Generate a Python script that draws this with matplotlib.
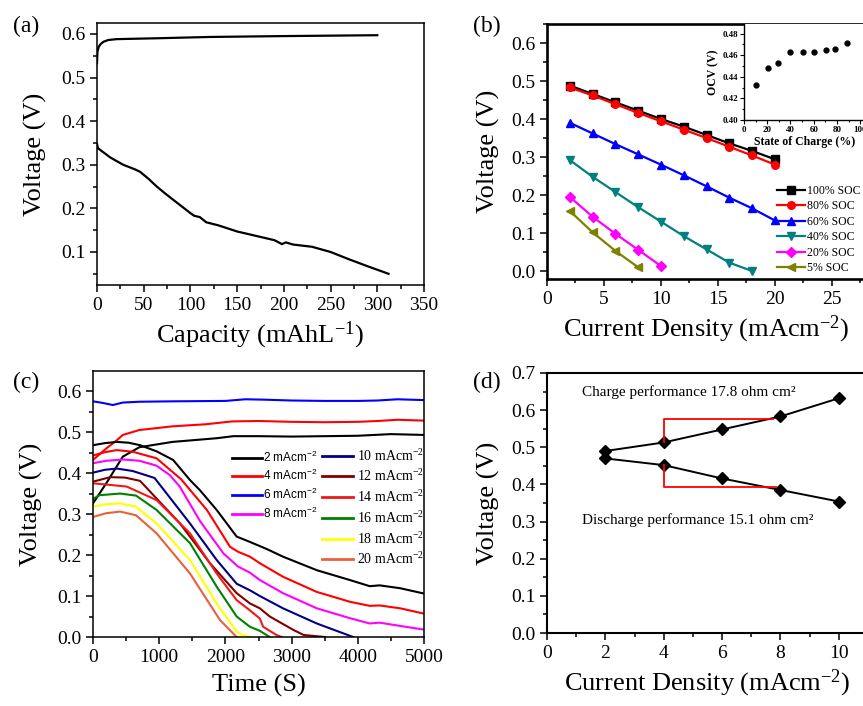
import matplotlib.pyplot as plt
from matplotlib.ticker import MultipleLocator
from matplotlib.lines import Line2D

plt.rcParams['font.family'] = ['Liberation Serif', 'DejaVu Serif']
plt.rcParams['mathtext.default'] = 'regular'

# ---------------- (a) charge / discharge vs capacity ----------------
a_chg_x = [0, 0.5, 2, 4, 7, 12, 21, 64, 121, 200, 300]
a_chg_y = [0.533, 0.56, 0.571, 0.577, 0.582, 0.586, 0.588, 0.590, 0.593, 0.595, 0.597]
a_dis_x = [0, 1, 14, 28, 40, 46, 55, 64, 73, 82, 91, 100, 104, 110, 117, 130, 150,
           170, 190, 198, 202, 210, 230, 250, 270, 290, 312]
a_dis_y = [0.348, 0.338, 0.317, 0.300, 0.290, 0.284, 0.268, 0.250, 0.234, 0.219, 0.204,
           0.189, 0.183, 0.180, 0.168, 0.161, 0.147, 0.137, 0.127, 0.118, 0.122, 0.117,
           0.112, 0.100, 0.083, 0.067, 0.050]

# ---------------- (b) polarisation at different SOC ----------------
soc_labels = ['100% SOC', '80% SOC', '60% SOC', '40% SOC', '20% SOC', '5% SOC']
soc_x = [
    [2, 4, 6, 8, 10, 12, 14, 16, 18, 20],
    [2, 4, 6, 8, 10, 12, 14, 16, 18, 20],
    [2, 4, 6, 8, 10, 12, 14, 16, 18, 20],
    [2, 4, 6, 8, 10, 12, 14, 16, 18],
    [2, 4, 6, 8, 10],
    [2, 4, 6, 8],
]
soc_y = [
    [0.488, 0.466, 0.444, 0.422, 0.400, 0.380, 0.358, 0.336, 0.316, 0.294],
    [0.483, 0.462, 0.439, 0.416, 0.394, 0.372, 0.350, 0.327, 0.304, 0.280],
    [0.390, 0.362, 0.334, 0.307, 0.280, 0.252, 0.223, 0.193, 0.165, 0.133],
    [0.292, 0.248, 0.208, 0.168, 0.130, 0.092, 0.057, 0.022, 0.000],
    [0.195, 0.143, 0.098, 0.056, 0.013],
    [0.158, 0.102, 0.053, 0.010],
]
soc_colors = ['#000000', '#FF0000', '#0000FF', '#008080', '#FF00FF', '#808000']
soc_markers = ['s', 'o', '^', 'v', 'D', '<']

ocv_soc = [10, 21, 29, 40, 51, 60, 71, 78, 89]
ocv_v = [0.432, 0.448, 0.453, 0.463, 0.463, 0.463, 0.465, 0.466, 0.471]

# ---------------- (c) voltage vs time ----------------
c_labels = ['2 mAcm$^{-2}$', '4 mAcm$^{-2}$', '6 mAcm$^{-2}$', '8 mAcm$^{-2}$',
            '10 mAcm$^{-2}$', '12 mAcm$^{-2}$', '14 mAcm$^{-2}$', '16 mAcm$^{-2}$',
            '18 mAcm$^{-2}$', '20 mAcm$^{-2}$']
c_colors = ['#000000', '#FF0000', '#0000FF', '#FF00FF', '#000080', '#800000',
            '#F01818', '#008000', '#FFFF00', '#E8603C']

# charge curves (2, 4, 6 mA)
chg2_t = [0, 200, 450, 700, 1200, 1870, 2120, 2500, 3000, 3500, 4000, 4500, 5000]
chg2_v = [0.326, 0.375, 0.440, 0.463, 0.476, 0.485, 0.490, 0.490, 0.489, 0.490, 0.491, 0.495, 0.493]
chg4_t = [0, 200, 360, 450, 700, 1200, 1700, 2100, 2500, 3000, 3500, 4000, 4300, 4600, 5000]
chg4_v = [0.432, 0.460, 0.480, 0.493, 0.505, 0.514, 0.519, 0.526, 0.527, 0.525, 0.524,
          0.525, 0.527, 0.530, 0.528]
chg6_t = [0, 150, 300, 450, 700, 1200, 2000, 2300, 2600, 3000, 3500, 4000, 4300, 4600, 5000]
chg6_v = [0.575, 0.571, 0.566, 0.572, 0.574, 0.575, 0.576, 0.580, 0.579, 0.577, 0.576,
          0.576, 0.577, 0.580, 0.578]

# discharge curves
dis_t = [
    [0, 180, 360, 540, 710, 960, 1210, 1465, 1616, 1868, 2170, 2370, 2620, 2870, 3380,
     3880, 4180, 4330, 4640, 5000],
    [0, 180, 360, 600, 960, 1330, 1720, 2070, 2190, 2370, 2520, 2870, 3380, 3880, 4180,
     4330, 4640, 5000],
    None,
    [0, 200, 460, 700, 960, 1160, 1310, 1620, 1970, 2190, 2370, 2520, 2870, 3380, 3880,
     4180, 4330, 4640, 5000],
    [0, 180, 360, 600, 930, 1465, 1868, 2170, 2370, 2520, 2870, 3380, 3930],
    [0, 260, 480, 710, 1314, 1767, 2170, 2370, 2520, 2670, 3030, 3180, 3500],
    [0, 260, 510, 960, 1465, 1868, 2170, 2370, 2520, 2570, 2770, 2850],
    [0, 100, 410, 650, 960, 1465, 1868, 2170, 2370, 2520, 2670],
    [0, 200, 410, 650, 960, 1465, 1868, 2170, 2250, 2400],
    [0, 200, 410, 650, 960, 1465, 1920, 2170],
]
dis_v = [
    [0.468, 0.473, 0.476, 0.474, 0.468, 0.453, 0.432, 0.383, 0.358, 0.310, 0.245, 0.232,
     0.215, 0.196, 0.163, 0.139, 0.124, 0.126, 0.119, 0.106],
    [0.443, 0.451, 0.456, 0.452, 0.436, 0.385, 0.310, 0.220, 0.208, 0.196, 0.180, 0.147,
     0.110, 0.086, 0.076, 0.077, 0.070, 0.057],
    None,
    [0.424, 0.430, 0.433, 0.430, 0.418, 0.395, 0.367, 0.282, 0.204, 0.172, 0.157, 0.139,
     0.107, 0.070, 0.046, 0.033, 0.035, 0.027, 0.018],
    [0.401, 0.408, 0.411, 0.405, 0.388, 0.277, 0.188, 0.130, 0.114, 0.100, 0.070, 0.033,
     0.000],
    [0.379, 0.390, 0.389, 0.381, 0.277, 0.180, 0.107, 0.082, 0.070, 0.050, 0.017, 0.005,
     0.000],
    [0.375, 0.371, 0.367, 0.334, 0.253, 0.155, 0.090, 0.065, 0.045, 0.025, 0.005, 0.000],
    [0.337, 0.346, 0.350, 0.345, 0.310, 0.229, 0.123, 0.050, 0.025, 0.015, 0.000],
    [0.318, 0.324, 0.326, 0.318, 0.277, 0.188, 0.082, 0.013, 0.005, 0.000],
    [0.293, 0.302, 0.306, 0.297, 0.253, 0.155, 0.041, 0.000],
]

# ---------------- (d) charge / discharge performance ----------------
d_x = [2, 4, 6, 8, 10]
d_chg = [0.490, 0.513, 0.548, 0.583, 0.632]
d_dis = [0.470, 0.452, 0.416, 0.385, 0.354]
d_red1_x = [4, 4, 7.75]
d_red1_y = [0.513, 0.577, 0.577]
d_red2_x = [4, 4, 7.85]
d_red2_y = [0.452, 0.392, 0.392]

W, H = 863, 706
fig = plt.figure(figsize=(W / 100, H / 100), dpi=100)
fig.patch.set_facecolor('white')


def box(l, t, r, b):
    return [l / W, 1 - b / H, (r - l) / W, (b - t) / H]


def style(ax, lw):
    for s in ax.spines.values():
        s.set_linewidth(lw)
    ax.tick_params(which='both', direction='out', width=1.1, labelsize=14,
                   top=False, right=False)
    ax.tick_params(which='major', length=5)
    ax.tick_params(which='minor', length=3)


# ---- (a)
ax = fig.add_axes(box(97, 23, 424, 285))
ax.plot(a_chg_x, a_chg_y, color='black', lw=1.6)
ax.plot(a_dis_x, a_dis_y, color='black', lw=1.6)
ax.set_xlim(0, 350)
ax.set_ylim(0.0243, 0.625)
ax.xaxis.set_major_locator(MultipleLocator(50))
ax.xaxis.set_minor_locator(MultipleLocator(25))
ax.yaxis.set_major_locator(MultipleLocator(0.1))
ax.yaxis.set_minor_locator(MultipleLocator(0.05))
ax.yaxis.set_major_formatter(plt.FuncFormatter(lambda v, p: f'{v:.1f}'))
style(ax, 1.1)
ax.set_xlabel('Capacity (mAhL$^{-1}$)', fontsize=19, labelpad=4)
ax.set_ylabel('Voltage (V)', fontsize=19, labelpad=10)

# ---- (b)
ax = fig.add_axes(box(547, 24, 866, 279))
handles = []
for xs, ys, col, mk, lab in zip(soc_x, soc_y, soc_colors, soc_markers, soc_labels):
    h, = ax.plot(xs, ys, color=col, marker=mk, ms=5.5, lw=1.6, label=lab)
    handles.append(h)
ax.set_xlim(0, 28)
ax.set_ylim(-0.021, 0.65)
ax.xaxis.set_major_locator(MultipleLocator(5))
ax.xaxis.set_minor_locator(MultipleLocator(2.5))
ax.yaxis.set_major_locator(MultipleLocator(0.1))
ax.yaxis.set_minor_locator(MultipleLocator(0.05))
ax.yaxis.set_major_formatter(plt.FuncFormatter(lambda v, p: f'{v:.1f}'))
style(ax, 1.9)
ax.set_xlabel('Current Density (mAcm$^{-2}$)', fontsize=19, labelpad=4)
ax.set_ylabel('Voltage (V)', fontsize=19, labelpad=8)
ax.legend(handles=handles, loc='upper left', bbox_to_anchor=(0.72, 0.37),
          frameon=False, fontsize=8.5, handlelength=2.4, handletextpad=0.2,
          labelspacing=0.3, borderpad=0, borderaxespad=0)

# inset
axi = fig.add_axes(box(744, 24, 866, 120))
axi.plot(ocv_soc, ocv_v, 'o', color='black', ms=3.5)
axi.set_xlim(0, 105)
axi.set_ylim(0.40, 0.489)
axi.xaxis.set_major_locator(MultipleLocator(20))
axi.xaxis.set_minor_locator(MultipleLocator(10))
axi.yaxis.set_major_locator(MultipleLocator(0.02))
axi.yaxis.set_minor_locator(MultipleLocator(0.01))
axi.spines['top'].set_visible(False)
axi.spines['right'].set_visible(False)
for s in ['left', 'bottom']:
    axi.spines[s].set_linewidth(1.0)
axi.tick_params(which='both', direction='out', width=0.8, labelsize=6.5, pad=1.5)
axi.tick_params(which='major', length=3)
axi.tick_params(which='minor', length=1.5)
for lab in axi.get_xticklabels() + axi.get_yticklabels():
    lab.set_fontweight('bold')
axi.set_xlabel('State of Charge (%)', fontsize=8.5, fontweight='bold', labelpad=1)
axi.set_ylabel('OCV (V)', fontsize=8.5, fontweight='bold', labelpad=2)

# ---- (c)
ax = fig.add_axes(box(93, 371, 424, 637))
ax.plot(chg2_t, chg2_v, color=c_colors[0], lw=1.5)
ax.plot(chg4_t, chg4_v, color=c_colors[1], lw=1.5)
ax.plot(chg6_t, chg6_v, color=c_colors[2], lw=1.5)
for ts, vs, col in zip(dis_t, dis_v, c_colors):
    if ts is None:
        continue
    ax.plot(ts, vs, color=col, lw=1.5)
ax.set_xlim(0, 5000)
ax.set_ylim(0, 0.649)
ax.xaxis.set_major_locator(MultipleLocator(1000))
ax.xaxis.set_minor_locator(MultipleLocator(500))
ax.yaxis.set_major_locator(MultipleLocator(0.1))
ax.yaxis.set_minor_locator(MultipleLocator(0.05))
ax.yaxis.set_major_formatter(plt.FuncFormatter(lambda v, p: f'{v:.1f}'))
style(ax, 1.1)
ax.set_xlabel('Time (S)', fontsize=19, labelpad=6)
ax.set_ylabel('Voltage (V)', fontsize=19, labelpad=10)

h1 = [Line2D([], [], color=c, lw=2) for c in c_colors[:4]]
leg1 = ax.legend(handles=h1, labels=c_labels[:4], loc='upper left',
                 bbox_to_anchor=(0.42, 0.705), frameon=False,
                 prop={'family': 'Liberation Sans', 'size': 8.5},
                 handlelength=2.5, handletextpad=0.15, labelspacing=0.3,
                 borderpad=0, borderaxespad=0)
ax.add_artist(leg1)
h2 = [Line2D([], [], color=c, lw=2) for c in c_colors[4:]]
ax.legend(handles=h2, labels=c_labels[4:], loc='upper left',
          bbox_to_anchor=(0.692, 0.712), frameon=False, fontsize=10,
          handlelength=2.2, handletextpad=0.3, labelspacing=0.35,
          borderpad=0, borderaxespad=0)

# ---- (d)
ax = fig.add_axes(box(547, 373, 868, 633))
ax.plot(d_x, d_chg, color='black', marker='D', ms=6.5, lw=1.4)
ax.plot(d_x, d_dis, color='black', marker='D', ms=6.5, lw=1.4)
ax.plot(d_red1_x, d_red1_y, color='#FF0000', lw=1.3)
ax.plot(d_red2_x, d_red2_y, color='#FF0000', lw=1.3)
ax.text(1.2, 0.649, 'Charge performance 17.8 ohm cm²', fontsize=11, va='center')
ax.text(1.2, 0.304, 'Discharge performance 15.1 ohm cm²', fontsize=11, va='center')
ax.set_xlim(0, 11)
ax.set_ylim(0, 0.7)
ax.xaxis.set_major_locator(MultipleLocator(2))
ax.xaxis.set_minor_locator(MultipleLocator(1))
ax.yaxis.set_major_locator(MultipleLocator(0.1))
ax.yaxis.set_minor_locator(MultipleLocator(0.05))
ax.yaxis.set_major_formatter(plt.FuncFormatter(lambda v, p: f'{v:.1f}'))
style(ax, 1.5)
ax.set_xlabel('Current Density (mAcm$^{-2}$)', fontsize=19, labelpad=4)
ax.set_ylabel('Voltage (V)', fontsize=19, labelpad=8)

# panel labels
for txt, px, py in [('(a)', 13, 26), ('(b)', 473, 26), ('(c)', 13, 382), ('(d)', 473, 382)]:
    fig.text(px / W, 1 - py / H, txt, fontsize=17, va='center', ha='left')

fig.savefig('out.png', dpi=100)
